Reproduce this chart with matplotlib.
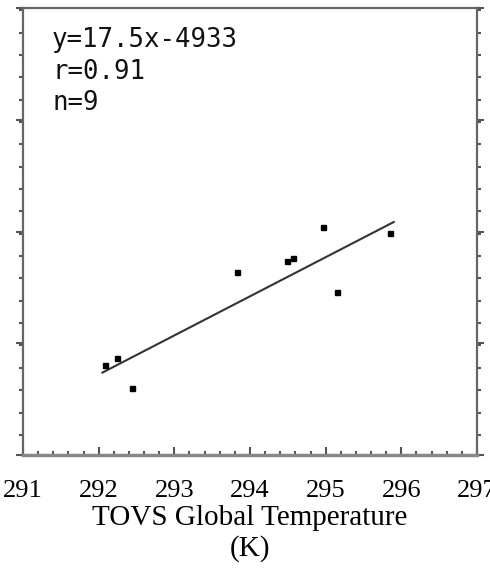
import matplotlib
matplotlib.use("Agg")
import matplotlib.pyplot as plt
import numpy as np
from matplotlib.ticker import MultipleLocator, FixedLocator

# Data
tovs_temp = [292.08, 292.24, 292.44, 293.83, 294.49, 294.57, 294.96, 295.15, 295.85]
y_values = [181.3, 184.4, 171.0, 222.9, 227.8, 229.1, 243.0, 213.9, 240.3]
slope = 17.5
intercept = -4933
fit_x_range = [292.05, 295.9]
x_ticks = [291, 292, 293, 294, 295, 296, 297]
stats_lines = ["y=17.5x-4933", "r=0.91", "n=9"]
xlabel = "TOVS Global Temperature\n(K)"

fig = plt.figure(figsize=(4.9, 5.7), dpi=100)
ax = fig.add_axes([23/490, 1-455/570, 454/490, 447/570])

ax.set_xlim(291, 297)
ax.set_ylim(141, 341)

fx = np.array(fit_x_range)
ax.plot(fx, slope*fx + intercept, color="#333333", lw=1.5)
ax.plot(tovs_temp, y_values, ls="none", marker="s", ms=3.6, color="black")

spine_col = "#666666"
for s in ax.spines.values():
    s.set_color(spine_col)
    s.set_linewidth(1.6)
ax.spines["bottom"].set_color("#888888")
ax.spines["bottom"].set_linewidth(2.5)

ax.set_xticks(x_ticks)
ax.xaxis.set_minor_locator(MultipleLocator(0.2))
ax.set_xticklabels([str(t) for t in x_ticks], fontfamily="Liberation Serif", fontsize=19)
ax.tick_params(axis="x", which="major", direction="in", length=6, width=1.5, color="#555555", pad=18)
ax.tick_params(axis="x", which="minor", direction="in", length=3, width=1.5, color="#555555")
ax.tick_params(axis="x", which="both", top=False)

ax.yaxis.set_major_locator(FixedLocator([141, 191, 241, 291, 341]))
ax.yaxis.set_minor_locator(MultipleLocator(10))
ax.tick_params(axis="y", which="both", left=True, right=True, labelleft=False, labelright=False,
               direction="out", color="#555555", width=1.5)
ax.tick_params(axis="y", which="major", length=5)
ax.tick_params(axis="y", which="minor", length=3)

ax.set_xlabel(xlabel, fontfamily="Liberation Serif", fontsize=21, linespacing=1.2, labelpad=2)

for i, line in enumerate(stats_lines):
    fig.text(52/490, 1-(40+31.5*i)/570, line, fontfamily="DejaVu Sans Mono", fontsize=18.5,
             va="center", ha="left", color="#111111")

fig.savefig("out.png", dpi=100)
